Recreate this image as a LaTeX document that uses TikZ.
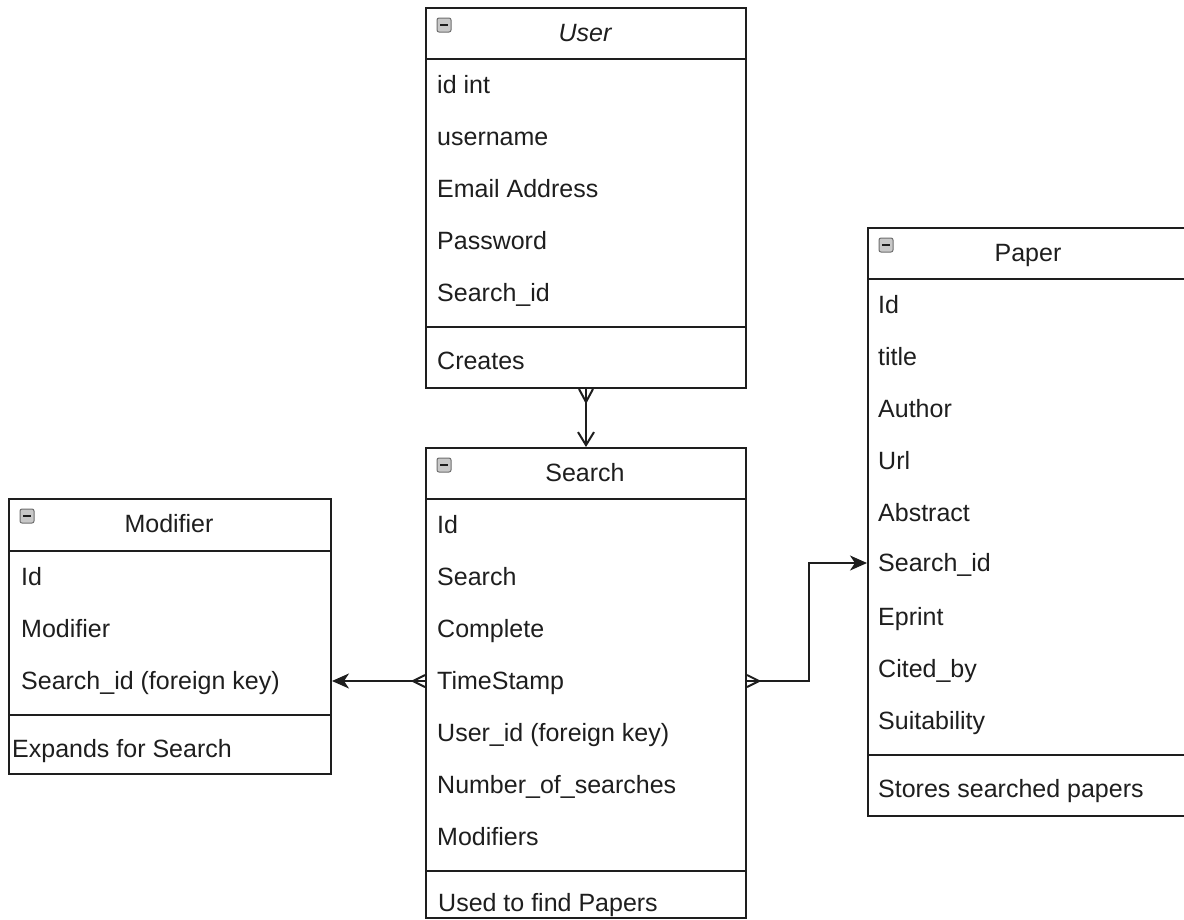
\documentclass[tikz,border=0pt]{standalone}
\usepackage{fontspec}
\setmainfont{Liberation Sans}
\usetikzlibrary{arrows.meta,calc}
\definecolor{ink}{HTML}{1E1E1E}
\definecolor{iconfill}{HTML}{C8C8C8}
\definecolor{iconline}{HTML}{6E6E6E}
\begin{document}
\begin{tikzpicture}[x=1pt,y=-1pt,
  txt/.style={font=\fontsize{25}{29}\selectfont, text=ink, inner sep=0pt,
              text height=17.8pt, text depth=0pt},
  entity/.style={draw=ink, line width=2pt, anchor=north west, inner sep=0pt},
  title/.style={txt},
  field/.style={txt, anchor=west},
  sep/.style={draw=ink, line width=2pt},
  icon/.style={draw=iconline, fill=iconfill, rounded corners=2pt,
               minimum size=14pt, inner sep=0pt, line width=1pt},
  minus/.style={draw=ink, line width=1.6pt},
  link/.style={draw=ink, line width=2pt},
  filled/.style={-{Stealth[length=17pt,width=15pt,inset=5pt]}},
  open/.style={-{Straight Barb[length=13pt,width=16pt]}}
]
\useasboundingbox (0,0) rectangle (1184,919);
\fill[white] (0,0) rectangle (1184,919);

% ---------- User ----------
\node[entity, minimum width=320pt, minimum height=380pt] (user) at (425,7) {};
\draw[sep] (425,59) -- (745,59);
\draw[sep] (425,327) -- (745,327);
\node[icon] (user-icon) at (444,25) {};
\draw[minus] ($(user-icon.center)+(-4,0)$) -- ($(user-icon.center)+(4,0)$);
\node[title] (user-title) at (585,33) {\itshape User};
\node[field] (u-id)    at (437,85)  {id int};
\node[field] (u-name)  at (437,137) {username};
\node[field] (u-mail)  at (437,189) {Email Address};
\node[field] (u-pass)  at (437,241) {Password};
\node[field] (u-sid)   at (437,293) {Search\_id};
\node[field] (u-note)  at (437,361) {Creates};

% ---------- Search ----------
\node[entity, minimum width=320pt, minimum height=470pt] (search) at (425,447) {};
\draw[sep] (425,499) -- (745,499);
\draw[sep] (425,871) -- (745,871);
\node[icon] (search-icon) at (444,465) {};
\draw[minus] ($(search-icon.center)+(-4,0)$) -- ($(search-icon.center)+(4,0)$);
\node[title] (search-title) at (585,473) {Search};
\node[field] (s-id)   at (437,525) {Id};
\node[field] (s-srch) at (437,577) {Search};
\node[field] (s-comp) at (437,629) {Complete};
\node[field] (s-ts)   at (437,681) {TimeStamp};
\node[field] (s-uid)  at (437,733) {User\_id (foreign key)};
\node[field] (s-num)  at (437,785) {Number\_of\_searches};
\node[field] (s-mod)  at (437,837) {Modifiers};
\node[field] (s-note) at (438,903) {Used to find Papers};

% ---------- Modifier ----------
\node[entity, minimum width=322pt, minimum height=275pt] (modifier) at (8,498) {};
\draw[sep] (8,551) -- (330,551);
\draw[sep] (8,715) -- (330,715);
\node[icon] (modifier-icon) at (27,516) {};
\draw[minus] ($(modifier-icon.center)+(-4,0)$) -- ($(modifier-icon.center)+(4,0)$);
\node[title] (modifier-title) at (169,524) {Modifier};
\node[field] (m-id)   at (21,577) {Id};
\node[field] (m-mod)  at (21,629) {Modifier};
\node[field] (m-sid)  at (21,681) {Search\_id (foreign key)};
\node[field] (m-note) at (12,749) {Expands for Search};

% ---------- Paper ----------
\node[entity, minimum width=322pt, minimum height=588pt] (paper) at (867,227) {};
\draw[sep] (867,279) -- (1189,279);
\draw[sep] (867,755) -- (1189,755);
\node[icon] (paper-icon) at (886,245) {};
\draw[minus] ($(paper-icon.center)+(-4,0)$) -- ($(paper-icon.center)+(4,0)$);
\node[title] (paper-title) at (1028,253) {Paper};
\node[field] (p-id)   at (878,305) {Id};
\node[field] (p-tit)  at (878,357) {title};
\node[field] (p-auth) at (878,409) {Author};
\node[field] (p-url)  at (878,461) {Url};
\node[field] (p-abs)  at (878,513) {Abstract};
\node[field] (p-sid)  at (878,563) {Search\_id};
\node[field] (p-epr)  at (878,617) {Eprint};
\node[field] (p-cit)  at (878,669) {Cited\_by};
\node[field] (p-suit) at (878,721) {Suitability};
\node[field] (p-note) at (878,789) {Stores searched papers};

% ---------- Relationships ----------
% User (many) -> Search
\draw[link, open] (user.south) -- (search.north);
\draw[link] ($(user.south)+(-7,0)$) -- ($(user.south)+(0,13)$) -- ($(user.south)+(7,0)$);

% Search (many) -> Modifier
\coordinate (s-left) at (search.west |- s-ts);
\draw[link, filled] (s-left) -- (modifier.east |- s-ts);
\draw[link] ($(s-left)+(0,-6)$) -- ($(s-left)+(-12,0)$) -- ($(s-left)+(0,6)$);

% Search (many) -> Paper
\coordinate (s-right) at (search.east |- s-ts);
\draw[link, filled] (s-right) -- ++(62,0) |- (paper.west |- p-sid);
\draw[link] ($(s-right)+(0,-6)$) -- ($(s-right)+(12,0)$) -- ($(s-right)+(0,6)$);
\end{tikzpicture}
\end{document}
